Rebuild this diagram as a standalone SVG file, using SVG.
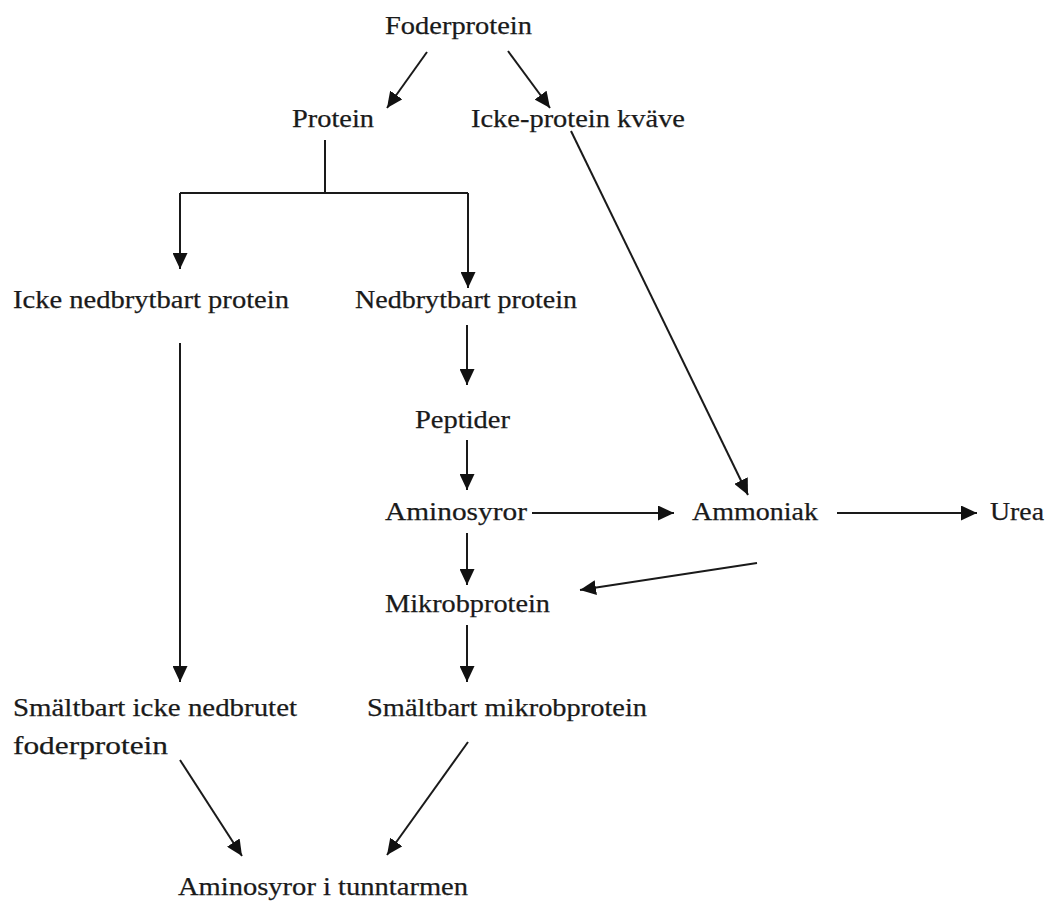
<svg xmlns="http://www.w3.org/2000/svg" width="1059" height="902" viewBox="0 0 1059 902">
<style>
text{font-family:"Liberation Serif","Times New Roman",serif;font-size:26px;fill:#1a1a1a;stroke:#1a1a1a;stroke-width:0.25}
.c{stroke:#1a1a1a;stroke-width:2;fill:none}
.a{marker-end:url(#ah)}
</style>
<defs>
<marker id="ah" markerUnits="userSpaceOnUse" markerWidth="17" markerHeight="15" refX="16" refY="7.5" orient="auto">
<path d="M0,0 L16,7.5 L0,15 z" fill="#111"/>
</marker>
</defs>
<rect width="1059" height="902" fill="#fff"/>
<g id="n-foderprotein"><text x="385" y="34" textLength="147" lengthAdjust="spacingAndGlyphs">Foderprotein</text></g>
<g id="n-protein"><text x="292" y="127" textLength="82" lengthAdjust="spacingAndGlyphs">Protein</text></g>
<g id="n-ickeprotein"><text x="471" y="127" textLength="214" lengthAdjust="spacingAndGlyphs">Icke-protein kväve</text></g>
<g id="n-ickened"><text x="13" y="308" textLength="276" lengthAdjust="spacingAndGlyphs">Icke nedbrytbart protein</text></g>
<g id="n-ned"><text x="355" y="308" textLength="222" lengthAdjust="spacingAndGlyphs">Nedbrytbart protein</text></g>
<g id="n-peptider"><text x="415" y="428" textLength="95" lengthAdjust="spacingAndGlyphs">Peptider</text></g>
<g id="n-aminosyror"><text x="385" y="520" textLength="142" lengthAdjust="spacingAndGlyphs">Aminosyror</text></g>
<g id="n-ammoniak"><text x="692" y="520" textLength="126" lengthAdjust="spacingAndGlyphs">Ammoniak</text></g>
<g id="n-urea"><text x="990" y="520" textLength="54" lengthAdjust="spacingAndGlyphs">Urea</text></g>
<g id="n-mikrob"><text x="385" y="612" textLength="165" lengthAdjust="spacingAndGlyphs">Mikrobprotein</text></g>
<g id="n-smaltfoder"><text x="13" y="716" textLength="284" lengthAdjust="spacingAndGlyphs">Smältbart icke nedbrutet</text><text x="13" y="754" textLength="155" lengthAdjust="spacingAndGlyphs">foderprotein</text></g>
<g id="n-smaltmikrob"><text x="367" y="716" textLength="280" lengthAdjust="spacingAndGlyphs">Smältbart mikrobprotein</text></g>
<g id="n-tunntarm"><text x="178" y="895" textLength="290" lengthAdjust="spacingAndGlyphs">Aminosyror i tunntarmen</text></g>
<g id="connectors">
<line class="c a" x1="427" y1="52" x2="387" y2="108"/>
<line class="c a" x1="508" y1="51" x2="550" y2="108"/>
<line class="c a" x1="571" y1="131" x2="748" y2="495"/>
<line class="c" x1="325" y1="140" x2="325" y2="193"/>
<line class="c" x1="180" y1="193" x2="468" y2="193"/>
<line class="c a" x1="180" y1="193" x2="180" y2="269"/>
<line class="c a" x1="468" y1="193" x2="468" y2="288"/>
<line class="c a" x1="180" y1="343" x2="180" y2="682"/>
<line class="c a" x1="467" y1="325" x2="467" y2="385"/>
<line class="c a" x1="467" y1="440" x2="467" y2="490"/>
<line class="c a" x1="532" y1="513" x2="674" y2="513"/>
<line class="c a" x1="837" y1="513" x2="977" y2="513"/>
<line class="c a" x1="467" y1="533" x2="467" y2="585"/>
<line class="c a" x1="757" y1="563" x2="580" y2="590"/>
<line class="c a" x1="467" y1="625" x2="467" y2="682"/>
<line class="c a" x1="180" y1="760" x2="242" y2="856"/>
<line class="c a" x1="468" y1="742" x2="387" y2="855"/>
</g>
</svg>
